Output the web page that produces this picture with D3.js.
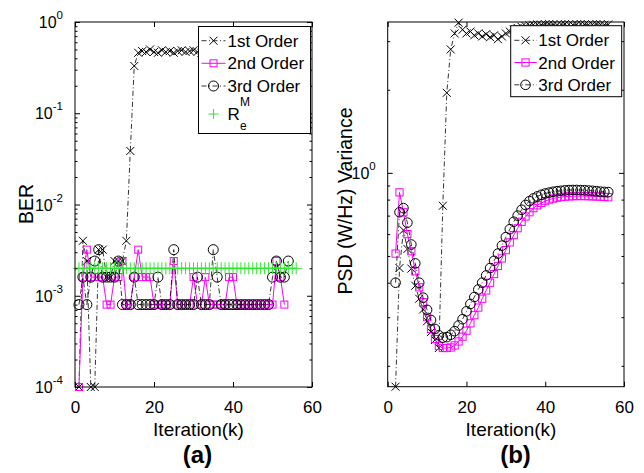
<!DOCTYPE html>
<html><head><meta charset="utf-8">
<script src="https://cdn.jsdelivr.net/npm/d3@7"></script>
<style>
body{margin:0;background:#fff}
svg{display:block}
text{font-family:"Liberation Sans",Arial,Helvetica,sans-serif;fill:#000}
</style>
</head><body>
<svg id="c" width="644" height="473"></svg>
<script>
// ---------------- DATA ----------------
const xTicks = [0, 20, 40, 60];
const berMajorExp = [-4, -3, -2, -1, 0];
const psdMajorExp = [0];
const legendA = ["1st Order", "2nd Order", "3rd Order"];
const legendB = ["1st Order", "2nd Order", "3rd Order"];

// Panel (a): BER, iterations start at 1
const berStart = 1;
const ber1st = [0.0001,0.004,0.0024,0.0001,0.0001,0.0032,0.0032,0.0016,0.0016,0.0024,
  0.0024,0.0024,0.004,0.0386,0.33,0.46,0.48,0.47,0.5,0.47,
  0.46,0.49,0.47,0.48,0.46,0.48,0.49,0.47,0.48,0.49,
  0.47,0.46,0.48,0.47,0.49,0.48,0.47,0.46,0.48,0.49,
  0.47,0.48,0.46,0.47,0.48,0.49,0.47,0.48,0.46,0.47,
  0.48,0.47,0.49,0.48,0.47,0.48];
const ber2nd = [0.0001,0.0016,0.0032,0.0016,0.0016,0.0016,0.0016,0.0008,0.0008,0.0016,
  0.0016,0.0024,0.0008,0.0008,0.0016,0.0032,0.0016,0.0016,0.0016,0.0008,
  0.0008,0.0008,0.0008,0.0008,0.0024,0.0008,0.0008,0.0008,0.0008,0.0016,
  0.0008,0.0008,0.0016,0.0008,0.0008,0.0008,0.0008,0.0008,0.0016,0.0016,
  0.0008,0.0008,0.0008,0.0008,0.0008,0.0008,0.0008,0.0008,0.0008,0.0008,
  0.0024,0.0016,0.0008];
const ber3rd = [0.0008,0.0016,0.0008,0.0016,0.0024,0.0032,0.0016,0.0016,0.0016,0.0016,
  0.0024,0.0008,0.0008,0.0008,0.0016,0.0008,0.0008,0.0008,0.0008,0.0008,
  0.0016,0.0008,0.0008,0.0008,0.0032,0.0008,0.0008,0.0008,0.0008,0.0008,
  0.0016,0.0008,0.0008,0.0008,0.0032,0.0016,0.0008,0.0008,0.0008,0.0008,
  0.0008,0.0008,0.0008,0.0008,0.0008,0.0008,0.0008,0.0008,0.0008,0.0016,
  0.0024,0.0016,0.0016,0.0024];
const berReM = [0.002,0.002,0.002,0.002,0.002,0.002,0.002,0.002,0.002,0.002,
  0.002,0.002,0.002,0.002,0.002,0.002,0.002,0.002,0.002,0.002,
  0.002,0.002,0.002,0.002,0.002,0.002,0.002,0.002,0.002,0.002,
  0.002,0.002,0.002,0.002,0.002,0.002,0.002,0.002,0.002,0.002,
  0.002,0.002,0.002,0.002,0.002,0.002,0.002,0.002,0.002,0.002,
  0.002,0.002,0.002,0.002,0.002,0.002];

// Panel (b): PSD variance, iterations start at 2
const psdStart = 2;
const psd1st = [0.168,0.452,0.62,0.53,0.45,0.39,0.35,0.32,0.29,0.265,
  0.248,0.232,0.76,1.95,2.8,3.2,3.5,3.3,3.2,3.25,
  3.15,3.2,3.12,3.18,3.1,3.15,3.05,3.12,3.2,3.25,
  3.3,3.35,3.38,3.4,3.42,3.44,3.45,3.44,3.45,3.46,
  3.45,3.44,3.45,3.46,3.45,3.44,3.45,3.46,3.45,3.44,
  3.45,3.46,3.45,3.44,3.45];
const psd2nd = [0.51,0.85,0.72,0.6,0.52,0.44,0.385,0.34,0.3,0.272,
  0.25,0.236,0.232,0.232,0.233,0.237,0.245,0.255,0.268,0.285,
  0.305,0.325,0.35,0.375,0.4,0.43,0.46,0.49,0.525,0.56,
  0.595,0.63,0.665,0.695,0.72,0.745,0.763,0.778,0.79,0.8,
  0.807,0.813,0.817,0.82,0.822,0.823,0.824,0.824,0.824,0.823,
  0.822,0.821,0.82,0.818,0.816];
const psd3rd = [0.4,0.72,0.745,0.66,0.55,0.47,0.4,0.353,0.319,0.293,
  0.272,0.258,0.253,0.254,0.259,0.267,0.28,0.295,0.315,0.335,
  0.355,0.378,0.4,0.425,0.452,0.48,0.51,0.545,0.585,0.625,
  0.665,0.7,0.735,0.765,0.79,0.808,0.822,0.833,0.842,0.848,
  0.854,0.858,0.861,0.864,0.866,0.867,0.867,0.866,0.865,0.863,
  0.861,0.858,0.855,0.853,0.852];

// ---------------- DRAW ----------------
const svg = d3.select('#c');
const DASHDOT = "5,2.5,1,2.5";
const MAG = "#ff00ff", GRN = "#2fe82f";

function drawMarker(g, type, cx, cy, s, color) {
  if (type === 'x') {
    g.append('path').attr('d', `M${cx-s},${cy-s}L${cx+s},${cy+s}M${cx-s},${cy+s}L${cx+s},${cy-s}`)
      .attr('stroke', color).attr('stroke-width', 1).attr('fill', 'none');
  } else if (type === 'sq') {
    g.append('rect').attr('x', cx-s).attr('y', cy-s).attr('width', 2*s).attr('height', 2*s)
      .attr('stroke', color).attr('stroke-width', 1).attr('fill', 'none');
  } else if (type === 'o') {
    g.append('circle').attr('cx', cx).attr('cy', cy).attr('r', s)
      .attr('stroke', color).attr('stroke-width', 1).attr('fill', 'none');
  } else if (type === '+') {
    g.append('path').attr('d', `M${cx-s},${cy}L${cx+s},${cy}M${cx},${cy-s}L${cx},${cy+s}`)
      .attr('stroke', color).attr('stroke-width', 1).attr('fill', 'none');
  }
}

function panel(cfg) {
  const g = svg.append('g');
  const x = d3.scaleLinear().domain([0, 60]).range([cfg.x0, cfg.x1]);
  const y = d3.scaleLog().domain(cfg.yDomain).range([cfg.y1, cfg.y0]);

  // series
  cfg.series.forEach(s => {
    const pts = s.values.map((v, i) => [x(s.start + i), y(v)]);
    if (s.line) {
      g.append('path').attr('d', d3.line()(pts)).attr('fill', 'none')
        .attr('stroke', s.color).attr('stroke-width', s.lw || 0.8)
        .attr('stroke-dasharray', s.dash || null);
    }
    pts.forEach(p => drawMarker(g, s.marker, p[0], p[1], s.size, s.color));
  });

  // axes
  const allT = y.ticks();
  const isMajor = v => Math.abs(Math.log10(v) - Math.round(Math.log10(v))) < 1e-9;
  const major = cfg.majorExp.map(e => Math.pow(10, e));
  const minor = allT.filter(v => !isMajor(v));
  const clean = s => s.select('.domain').remove();

  const bx = g.append('g').attr('transform', `translate(0,${cfg.y1})`)
    .call(d3.axisBottom(x).tickValues(xTicks).tickSizeInner(-5).tickSizeOuter(0).tickPadding(14).tickFormat(d3.format('d')))
    .call(clean);
  bx.attr('font-size', 17).attr('font-family', '"Liberation Sans",Arial,sans-serif');
  bx.selectAll('line').attr('stroke', '#000');
  g.append('g').attr('transform', `translate(0,${cfg.y0})`)
    .call(d3.axisTop(x).tickValues(xTicks).tickSizeInner(-5).tickSizeOuter(0).tickFormat(''))
    .call(clean);
  [[d3.axisLeft, cfg.x0], [d3.axisRight, cfg.x1]].forEach(([ax, px]) => {
    g.append('g').attr('transform', `translate(${px},0)`)
      .call(ax(y).tickValues(major).tickSizeInner(-5).tickSizeOuter(0).tickFormat(''))
      .call(clean);
    g.append('g').attr('transform', `translate(${px},0)`)
      .call(ax(y).tickValues(minor).tickSizeInner(-2.5).tickSizeOuter(0).tickFormat(''))
      .call(clean);
  });

  // y tick labels with superscripts
  cfg.majorExp.forEach(e => {
    const t = g.append('text').attr('x', cfg.x0 - 12).attr('y', y(Math.pow(10, e)) + 6)
      .attr('text-anchor', 'end').attr('font-size', 16);
    t.append('tspan').text('10');
    t.append('tspan').attr('dy', -9).attr('font-size', 11.5).text(String(e));
  });

  // frame
  g.append('rect').attr('x', cfg.x0).attr('y', cfg.y0).attr('width', cfg.x1 - cfg.x0)
    .attr('height', cfg.y1 - cfg.y0).attr('fill', 'none').attr('stroke', '#000').attr('stroke-width', 1);

  // axis labels
  g.append('text').attr('x', cfg.xlabX).attr('y', 436).attr('text-anchor', 'middle')
    .attr('font-size', 19).text('Iteration(k)');
  g.append('text').attr('transform', `translate(${cfg.ylabX},${cfg.ylabY}) rotate(-90)`)
    .attr('text-anchor', 'middle').attr('font-size', 19.5).text(cfg.ylab);
  g.append('text').attr('x', cfg.tagX).attr('y', 463).attr('text-anchor', 'middle')
    .attr('font-size', 24).attr('font-weight', 'bold').text(cfg.tag);

  // legend
  const L = cfg.legend;
  const lg = g.append('g');
  lg.append('rect').attr('x', L.x).attr('y', L.y).attr('width', L.w).attr('height', L.h)
    .attr('fill', '#fff').attr('stroke', '#000').attr('stroke-width', 1);
  L.items.forEach((it, i) => {
    const ly = L.rows[i];
    if (it.line) {
      lg.append('line').attr('x1', L.lx0).attr('x2', L.lx1).attr('y1', ly).attr('y2', ly)
        .attr('stroke', it.color).attr('stroke-width', it.lw || 0.8).attr('stroke-dasharray', it.dash || null);
    }
    drawMarker(lg, it.marker, (L.lx0 + L.lx1) / 2, ly, it.size, it.color);
    if (it.label === 'ReM') {
      const t = lg.append('text').attr('x', L.tx).attr('y', ly + 6).attr('font-size', 17);
      t.append('tspan').text('R');
      t.append('tspan').attr('x', L.tx + 12.5).attr('dy', -14).attr('font-size', 12).text('M');
      t.append('tspan').attr('x', L.tx + 12.5).attr('dy', 24).attr('font-size', 12).text('e');
    } else {
      lg.append('text').attr('x', L.tx).attr('y', ly + 6).attr('font-size', 17).text(it.label);
    }
  });
}

panel({
  x0: 75, x1: 312, y0: 22, y1: 387, yDomain: [1e-4, 1], majorExp: berMajorExp,
  xlabX: 198.5, ylab: 'BER', ylabX: 32.5, ylabY: 204, tag: '(a)', tagX: 197.5,
  series: [
    {values: ber1st, start: berStart, color: '#000', marker: 'x', size: 4, line: true, dash: DASHDOT},
    {values: ber2nd, start: berStart, color: MAG, marker: 'sq', size: 3.5, line: true, lw: 1},
    {values: ber3rd, start: berStart, color: '#000', marker: 'o', size: 5, line: true, dash: DASHDOT},
    {values: berReM, start: berStart, color: GRN, marker: '+', size: 6, line: false}
  ],
  legend: {x: 198.5, y: 26.5, w: 112, h: 107, lx0: 201.5, lx1: 225.5, tx: 227.5,
    rows: [40.7, 63.3, 86, 114],
    items: [
      {label: legendA[0], color: '#000', marker: 'x', size: 4, line: true, dash: DASHDOT},
      {label: legendA[1], color: MAG, marker: 'sq', size: 3.5, line: true, lw: 1},
      {label: legendA[2], color: '#000', marker: 'o', size: 5, line: true, dash: DASHDOT},
      {label: 'ReM', color: GRN, marker: '+', size: 5, line: false}
    ]}
});

panel({
  x0: 387.7, x1: 624, y0: 22, y1: 386.7, yDomain: [0.168, 3.52], majorExp: psdMajorExp,
  xlabX: 511, ylab: 'PSD (W/Hz) Variance', ylabX: 351.5, ylabY: 201, tag: '(b)', tagX: 515.5,
  series: [
    {values: psd1st, start: psdStart, color: '#000', marker: 'x', size: 4, line: true, dash: DASHDOT},
    {values: psd2nd, start: psdStart, color: MAG, marker: 'sq', size: 3.6, line: true, lw: 1},
    {values: psd3rd, start: psdStart, color: '#000', marker: 'o', size: 4.8, line: true, dash: DASHDOT}
  ],
  legend: {x: 510.7, y: 25.7, w: 111, h: 71, lx0: 514.3, lx1: 536.7, tx: 538.3,
    rows: [40.3, 62.5, 84.8],
    items: [
      {label: legendB[0], color: '#000', marker: 'x', size: 4, line: true, dash: DASHDOT},
      {label: legendB[1], color: MAG, marker: 'sq', size: 3.6, line: true, lw: 1},
      {label: legendB[2], color: '#000', marker: 'o', size: 4.8, line: true, dash: DASHDOT}
    ]}
});
</script>
</body></html>
